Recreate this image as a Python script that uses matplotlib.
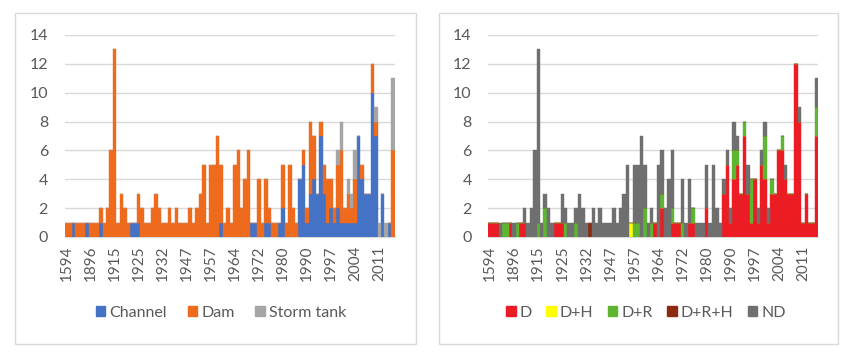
import matplotlib
matplotlib.use("Agg")
import matplotlib.pyplot as plt
from matplotlib.patches import Rectangle, Patch
import numpy as np

years = [1594, 1691, 1787, 1842, 1851, 1864, 1882, 1896, 1898, 1901,
         1906, 1907, 1910, 1912, 1915, 1916, 1917, 1918, 1919, 1920,
         1922, 1925, 1926, 1927, 1928, 1929, 1930, 1931, 1932, 1934,
         1936, 1937, 1939, 1941, 1943, 1947, 1949, 1950, 1951, 1953,
         1955, 1956, 1957, 1958, 1959, 1960, 1961, 1962, 1963, 1964,
         1965, 1966, 1967, 1968, 1969, 1970, 1972, 1973, 1974, 1975,
         1976, 1977, 1979, 1980, 1982, 1983, 1984, 1986, 1987, 1989,
         1990, 1991, 1992, 1993, 1994, 1995, 1996, 1997, 1998, 1999,
         2000, 2001, 2002, 2003, 2004, 2005, 2006, 2007, 2008, 2009,
         2010, 2011, 2012, 2013, 2014, 2015]

# Left chart: structure type
channel = [0,0,1,0,0,0,1,0,0,0, 1,0,0,0,0,0,0,0,0,1,
           1,1,0,0,0,0,0,0,0,0, 0,0,0,0,0,0,0,0,0,0,
           0,0,0,0,0,1,0,0,0,0, 0,0,0,0,1,1,0,0,1,1,
           0,0,1,2,0,0,0,0,4,5, 1,3,4,3,7,3,1,2,1,2,
           1,1,1,1,1,7,4,3,3,10, 7,0,3,0,1,0]
dam = [1,1,0,1,1,1,0,1,1,1, 1,1,2,6,13,1,3,2,1,0,
       0,2,2,1,1,2,3,2,1,1, 2,1,2,1,1,1,2,1,2,3,
       5,1,5,5,7,4,1,2,1,5, 6,2,4,6,0,0,4,1,3,1,
       1,1,0,3,1,5,2,1,0,1, 1,5,3,0,1,2,3,2,1,3,
       5,1,2,1,3,0,1,0,0,2, 1,0,0,0,0,6]
storm_tank = [0,0,0,0,0,0,0,0,0,0, 0,0,0,0,0,0,0,0,0,0,
              0,0,0,0,0,0,0,0,0,0, 0,0,0,0,0,0,0,0,0,0,
              0,0,0,0,0,0,0,0,0,0, 0,0,0,0,0,0,0,0,0,0,
              0,0,0,0,0,0,0,0,0,0, 0,0,0,0,0,0,0,0,0,1,
              2,0,1,1,2,0,0,0,0,0, 1,1,0,1,0,5]

# Right chart: damage type
d = [1,1,1,0,0,0,1,0,0,1, 1,0,0,0,0,0,0,0,0,1,
     1,1,0,0,0,0,0,0,0,0, 0,0,0,0,0,0,0,0,0,0,
     0,0,0,0,0,0,0,0,1,0, 2,0,0,1,1,1,0,0,1,1,
     0,0,0,2,0,0,0,0,3,5, 1,4,5,3,7,3,1,4,1,5,
     4,1,3,3,6,6,4,3,3,12, 8,1,3,1,1,7]
d_h = [0,0,0,0,0,0,0,0,0,0, 0,0,0,0,0,0,0,0,0,0,
       0,0,0,0,0,0,0,0,0,0, 0,0,0,0,0,0,0,0,0,0,
       0,1,0,0,0,0,0,0,0,0, 0,0,0,0,0,0,0,0,0,0,
       0,0,0,0,0,0,0,0,0,0, 0,0,0,0,0,0,0,0,0,0,
       0,0,0,0,0,0,0,0,0,0, 0,0,0,0,0,0]
d_r = [0,0,0,0,1,1,0,0,1,0, 0,0,0,0,1,0,2,0,0,0,
       0,0,1,0,0,1,0,0,0,0, 0,0,0,0,0,0,0,0,0,0,
       0,0,1,1,0,2,0,1,0,0, 1,0,0,1,0,0,1,0,0,1,
       0,0,0,0,0,0,0,0,0,0, 0,2,1,0,1,0,3,0,0,0,
       3,0,1,0,0,1,0,0,0,0, 0,0,0,0,0,2]
d_r_h = [0,0,0,0,0,0,0,0,0,0, 0,0,0,0,0,0,0,0,0,0,
         0,0,0,0,0,0,0,0,0,1, 0,0,0,0,0,0,0,0,0,0,
         0,0,0,0,0,0,0,0,0,0, 0,0,0,0,0,0,0,0,0,0,
         0,0,0,0,0,0,0,0,0,0, 0,0,0,0,0,0,0,0,0,0,
         0,0,0,0,0,0,0,0,0,0, 0,0,0,0,0,0]
nd = [0,0,0,1,0,0,0,1,0,0, 1,1,2,6,12,1,1,2,1,0,
      0,2,1,1,1,1,3,2,1,0, 2,1,2,1,1,1,2,1,2,3,
      5,0,4,4,7,3,1,1,0,5, 3,2,4,4,0,0,3,1,3,0,
      1,1,1,3,1,5,2,1,1,1, 1,2,1,0,0,2,0,0,1,1,
      1,1,0,0,0,0,1,0,0,0, 1,0,0,0,0,2]

left_series = [("Channel", channel, "#4472C4"),
               ("Dam", dam, "#EE6A1D"),
               ("Storm tank", storm_tank, "#A5A5A5")]
right_series = [("D", d, "#EC1C24"),
                ("D+H", d_h, "#FFFF00"),
                ("D+R", d_r, "#5DB531"),
                ("D+R+H", d_r_h, "#8E2A12"),
                ("ND", nd, "#6F6F6F")]

W, H = 850, 356
fig = plt.figure(figsize=(W / 100, H / 100), dpi=100)
fig.patch.set_facecolor("white")
font = ["Lato", "DejaVu Sans"]
tick_color = "#595959"

# chart-area boxes
for (x0, x1) in [(15, 416), (439, 838)]:
    fig.patches.append(Rectangle((x0 / W, 1 - 344 / H), (x1 - x0) / W, (344 - 13) / H,
                                 transform=fig.transFigure, fill=False,
                                 edgecolor="#D9D9D9", linewidth=1.0))

x = np.arange(len(years))
label_idx = list(range(0, len(years), 7))


def draw(ax_left_px, series, legend_center_px, colspace):
    ax = fig.add_axes([ax_left_px / W, 1 - 237 / H, 330 / W, (237 - 35) / H])
    bottom = np.zeros(len(years))
    handles = []
    for name, vals, col in series:
        v = np.array(vals, dtype=float)
        ax.bar(x, v, width=1.0, bottom=bottom, color=col, edgecolor=col,
               linewidth=0.3, zorder=3)
        bottom += v
        handles.append(Patch(facecolor=col, edgecolor=col, label=name))
    ax.set_xlim(-0.5, len(years) - 0.5)
    ax.set_ylim(0, 14)
    ax.set_yticks(range(0, 15, 2))
    ax.set_xticks([x[i] for i in label_idx])
    ax.set_xticklabels([str(years[i]) for i in label_idx], rotation=90,
                       fontsize=11, color=tick_color, family=font)
    for lab in ax.get_yticklabels():
        lab.set_fontsize(11.5)
        lab.set_color(tick_color)
        lab.set_family(font)
    ax.tick_params(axis="both", length=0)
    ax.tick_params(axis="y", pad=12)
    ax.tick_params(axis="x", pad=6)
    ax.grid(axis="y", color="#D9D9D9", linewidth=1.0, zorder=0)
    for s in ["top", "right", "left"]:
        ax.spines[s].set_visible(False)
    ax.spines["bottom"].set_color("#D9D9D9")
    ax.set_axisbelow(True)
    fig.legend(handles=handles, loc="center",
               bbox_to_anchor=(legend_center_px / W, 1 - 313 / H),
               ncol=len(handles), frameon=False,
               prop={"family": font, "size": 11.5},
               handlelength=0.6, handleheight=0.6, handletextpad=0.25,
               columnspacing=colspace, labelcolor=tick_color)
    return ax


draw(64.7, left_series, 221, 1.3)
draw(488.4, right_series, 646, 0.9)

fig.savefig("out.png", dpi=100, facecolor="white")
